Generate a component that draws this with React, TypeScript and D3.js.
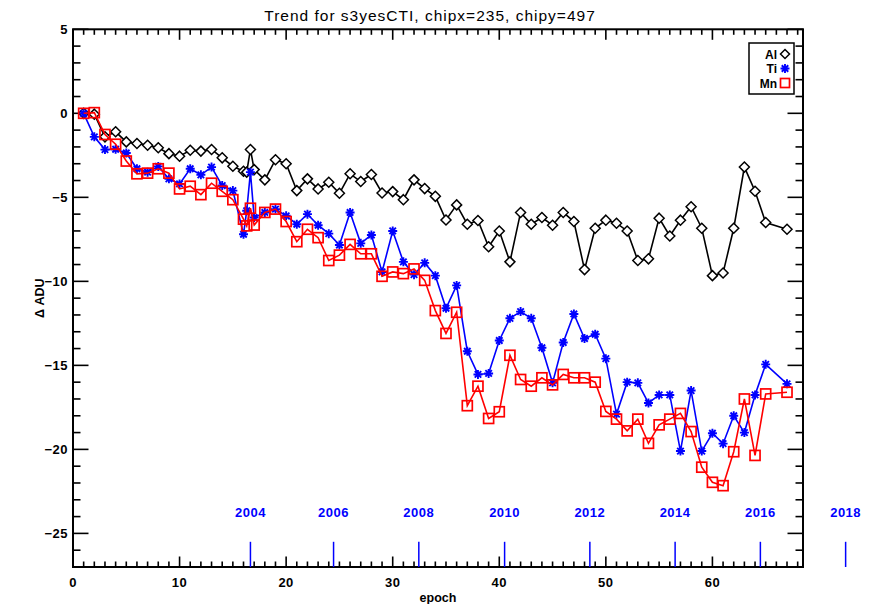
import { useEffect, useRef } from 'react'
import * as d3 from 'd3'

const epochs = [
  1, 2, 3, 4, 5, 6, 7, 8, 9, 10, 11, 12, 13, 14, 15, 16, 16.3, 16.65, 17,
  18, 19, 20, 21, 22, 23, 24, 25, 26, 27, 28, 29, 30, 31, 32, 33, 34, 35,
  36, 37, 38, 39, 40, 41, 42, 43, 44, 45, 46, 47, 48, 49, 50, 51, 52, 53,
  54, 55, 56, 57, 58, 59, 60, 61, 62, 63, 64, 65, 67
]

const al = [
  0, -0.05, -1.4, -1.1, -1.7, -1.8, -1.9, -2.05, -2.4, -2.55, -2.2, -2.25, -2.15, -2.65, -3.15,
  -3.45, -3.5, -2.15, -3.35,
  -3.96, -2.76, -3.0, -4.6, -3.9, -4.5, -4.1, -4.76, -3.6, -4.06, -3.64, -4.74, -4.66, -5.14,
  -3.96, -4.48, -4.94, -6.35, -5.45, -6.6, -6.38, -7.94, -7.0, -8.84, -5.9, -6.6, -6.2, -6.66,
  -5.9, -6.44, -9.3, -6.84, -6.36, -6.54, -7.0, -8.76, -8.66, -6.24, -7.3, -6.36, -5.56, -6.84,
  -9.66, -9.5, -6.84, -3.2, -4.64, -6.5, -6.9
]

const ti = [
  0, -1.4, -2.16, -2.14, -2.36, -3.3, -3.5, -3.16, -3.9, -4.2, -3.3, -3.66, -3.2, -4.3, -4.6,
  -7.2, -5.8, -3.5, -6.2,
  -5.9, -5.7, -6.1, -6.6, -6.0, -6.66, -7.16, -7.84, -5.9, -7.74, -7.24, -9.44, -7.0, -8.84,
  -9.6, -8.9, -9.66, -11.6, -10.24, -14.16, -15.54, -15.48, -13.52, -12.2, -11.8, -12.2, -13.95,
  -16.04, -13.64, -11.94, -13.4, -13.15, -14.6, -17.9, -16.0, -16.04, -17.24, -16.76, -16.76,
  -20.1, -16.5, -20.1, -19.04, -19.66, -18.0, -19.0, -16.76, -14.94, -16.1
]

const mn = [
  0, 0.04, -1.26, -1.84, -2.84, -3.6, -3.56, -3.3, -3.56, -4.5, -4.34, -4.84, -4.16, -4.64, -5.14,
  -6.3, -6.7, -5.65, -6.65,
  -5.9, -5.7, -6.44, -7.64, -6.9, -7.4, -8.76, -8.44, -7.8, -8.36, -8.36, -9.7, -9.44, -9.54,
  -9.26, -9.94, -11.74, -13.1, -11.84, -17.4, -16.24, -18.16, -17.76, -14.4, -15.84, -16.24,
  -15.74, -16.16, -15.54, -15.74, -15.74, -16.0, -17.74, -18.2, -18.9, -18.2, -19.64, -18.54,
  -18.2, -17.86, -18.94, -21.06, -21.96, -22.16, -20.14, -17.0, -20.36, -16.7, -16.6
]

const years = ['2004', '2006', '2008', '2010', '2012', '2014', '2016', '2018']
const yearEpochs = [16.65, 24.45, 32.45, 40.5, 48.5, 56.5, 64.5, 72.5]

const yTicks = [5, 0, -5, -10, -15, -20, -25]
const xTicks = [0, 10, 20, 30, 40, 50, 60]

const W = 873
const H = 604
const FONT = '"Liberation Sans", Arial, sans-serif'

// marker shapes (IDL style psym 4, 2, 6)
const diamond = (g, x, y, r = 5) =>
  g.append('path')
    .attr('d', `M${x},${y - r}L${x + r},${y}L${x},${y + r}L${x - r},${y}Z`)
    .attr('fill', 'white').attr('stroke', 'black').attr('stroke-width', 1.5)

const asterisk = (g, x, y, c) => {
  const r = 4.5, d = r * 0.72
  g.append('path')
    .attr('d', `M${x - r},${y}H${x + r}M${x},${y - r}V${y + r}M${x - d},${y - d}L${x + d},${y + d}M${x - d},${y + d}L${x + d},${y - d}`)
    .attr('stroke', c).attr('stroke-width', 1.9).attr('fill', 'none')
}

const square = (g, x, y, r = 5) =>
  g.append('rect')
    .attr('x', x - r).attr('y', y - r).attr('width', 2 * r).attr('height', 2 * r)
    .attr('fill', 'none').attr('stroke', '#ff0000').attr('stroke-width', 1.7)

const App = () => {
  const ref = useRef(null)

  useEffect(() => {
    const svg = d3.select(ref.current)
    svg.selectAll('*').remove()

    const left = 73, right = 803, top = 29.3, bottom = 567
    const x = d3.scaleLinear().domain([0, 68.5]).range([left, right])
    const y = d3.scaleLinear().domain([-27, 5]).range([bottom, top])

    svg.append('rect').attr('width', W).attr('height', H).attr('fill', 'white')

    // title
    svg.append('text')
      .attr('x', 430).attr('y', 21)
      .attr('text-anchor', 'middle')
      .attr('font-family', FONT).attr('font-size', 15.5).attr('letter-spacing', 1)
      .text('Trend for s3yesCTI, chipx=235, chipy=497')

    const axes = svg.append('g').attr('stroke', 'black').attr('stroke-width', 1.6)

    // x ticks bottom and top
    d3.range(0, 69).forEach((v) => {
      const len = v % 10 === 0 ? 10.5 : 5.5
      axes.append('line').attr('x1', x(v)).attr('x2', x(v)).attr('y1', bottom).attr('y2', bottom - len)
      axes.append('line').attr('x1', x(v)).attr('x2', x(v)).attr('y1', top).attr('y2', top + len)
    })
    // y ticks left and right
    d3.range(-27, 6).forEach((v) => {
      const len = v % 5 === 0 ? 15.5 : 7.5
      axes.append('line').attr('y1', y(v)).attr('y2', y(v)).attr('x1', left).attr('x2', left + len)
      axes.append('line').attr('y1', y(v)).attr('y2', y(v)).attr('x1', right).attr('x2', right - len)
    })
    axes.append('rect')
      .attr('x', left).attr('y', top).attr('width', right - left).attr('height', bottom - top)
      .attr('fill', 'none').attr('stroke-width', 2)

    const lbl = svg.append('g').attr('font-family', FONT).attr('font-weight', 'bold')
      .attr('font-size', 13).attr('letter-spacing', 0.5)
    xTicks.forEach((v) => {
      lbl.append('text').attr('x', x(v)).attr('y', 587).attr('text-anchor', 'middle').text(String(v))
    })
    yTicks.forEach((v) => {
      lbl.append('text').attr('x', 68).attr('y', y(v) + 4.5).attr('text-anchor', 'end')
        .text(v < 0 ? '\u2212' + Math.abs(v) : String(v))
    })

    svg.append('text')
      .attr('x', (left + right) / 2).attr('y', 602)
      .attr('text-anchor', 'middle').attr('font-family', FONT).attr('font-weight', 'bold').attr('font-size', 12.5)
      .text('epoch')
    svg.append('text')
      .attr('transform', `translate(44,${(top + bottom) / 2}) rotate(-90)`)
      .attr('text-anchor', 'middle').attr('font-family', FONT).attr('font-weight', 'bold').attr('font-size', 12.5)
      .text('\u0394 ADU')

    // year markers
    const yr = svg.append('g')
    years.forEach((t, i) => {
      yr.append('line')
        .attr('x1', x(yearEpochs[i])).attr('x2', x(yearEpochs[i]))
        .attr('y1', y(-25.5)).attr('y2', y(-27))
        .attr('stroke', '#0000ff').attr('stroke-width', 1.5)
      yr.append('text')
        .attr('x', x(yearEpochs[i])).attr('y', 517)
        .attr('text-anchor', 'middle').attr('font-family', FONT).attr('font-weight', 'bold')
        .attr('font-size', 13).attr('letter-spacing', 0.5).attr('fill', '#0000ff')
        .text(t)
    })

    const line = d3.line().x((d) => x(d[0])).y((d) => y(d[1]))
    const series = [
      { vals: al, color: 'black', mark: (g, px, py) => diamond(g, px, py) },
      { vals: ti, color: '#0000ff', mark: (g, px, py) => asterisk(g, px, py, '#0000ff') },
      { vals: mn, color: '#ff0000', mark: (g, px, py) => square(g, px, py) }
    ]
    series.forEach((s) => {
      const pts = epochs.map((e, i) => [e, s.vals[i]])
      const g = svg.append('g')
      g.append('path').attr('d', line(pts)).attr('fill', 'none')
        .attr('stroke', s.color).attr('stroke-width', 1.6)
      pts.forEach((p) => s.mark(g, x(p[0]), y(p[1])))
    })

    // legend
    const lg = svg.append('g')
    lg.append('rect').attr('x', 749).attr('y', 43).attr('width', 45).attr('height', 51)
      .attr('fill', 'white').attr('stroke', 'black').attr('stroke-width', 1.5)
    const names = ['Al', 'Ti', 'Mn']
    const rows = [54, 68.5, 83]
    names.forEach((n, i) => {
      lg.append('text').attr('x', 777).attr('y', rows[i] + 4.5).attr('text-anchor', 'end')
        .attr('font-family', FONT).attr('font-weight', 'bold').attr('font-size', 12).text(n)
    })
    diamond(lg, 785, rows[0], 4.5)
    asterisk(lg, 785, rows[1], '#0000ff')
    square(lg, 785, rows[2], 4.5)
  }, [])

  return (
    <div style={{ position: 'absolute', left: 0, top: 0 }}>
      <svg ref={ref} width={W} height={H} style={{ display: 'block' }} />
    </div>
  )
}

export default App
